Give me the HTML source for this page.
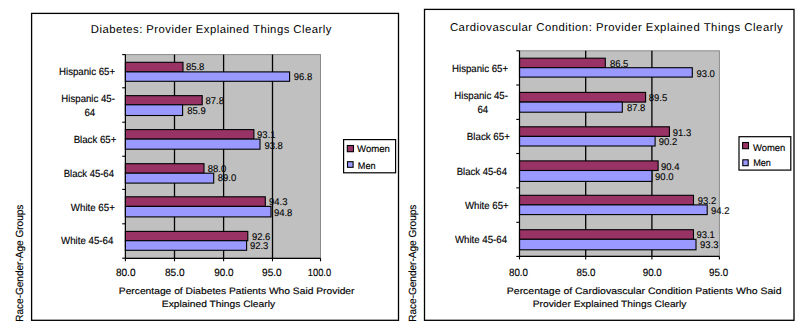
<!DOCTYPE html>
<html><head><meta charset="utf-8"><style>
html,body{margin:0;padding:0;background:#fff;width:804px;height:329px;overflow:hidden}
svg{display:block}
text{font-family:"Liberation Sans",sans-serif;fill:#000;text-rendering:geometricPrecision}
</style></head><body>
<svg width="804" height="329" viewBox="0 0 804 329">
<rect x="31.6" y="13.4" width="366.90" height="306.90" fill="#fff" stroke="#000" stroke-width="1.3"/>
<rect x="125.4" y="54.6" width="195.10" height="203.70" fill="#C0C0C0" stroke="#8a8a8a" stroke-width="1"/>
<rect x="424.5" y="9.4" width="369.50" height="310.90" fill="#fff" stroke="#000" stroke-width="1.3"/>
<rect x="519.5" y="50.8" width="199.90" height="205.60" fill="#C0C0C0" stroke="#8a8a8a" stroke-width="1"/>
<text x="185.90" y="69.60" font-size="9.8" textLength="18.48" lengthAdjust="spacingAndGlyphs" stroke="#000" stroke-width="0.1">85.8</text>
<text x="293.70" y="79.80" font-size="9.8" textLength="18.48" lengthAdjust="spacingAndGlyphs" stroke="#000" stroke-width="0.1">96.8</text>
<text x="205.50" y="104.10" font-size="9.8" textLength="18.48" lengthAdjust="spacingAndGlyphs" stroke="#000" stroke-width="0.1">87.8</text>
<text x="187.30" y="113.90" font-size="9.8" textLength="18.48" lengthAdjust="spacingAndGlyphs" stroke="#000" stroke-width="0.1">85.9</text>
<text x="257.10" y="138.20" font-size="9.8" textLength="18.48" lengthAdjust="spacingAndGlyphs" stroke="#000" stroke-width="0.1">93.1</text>
<text x="264.40" y="148.70" font-size="9.8" textLength="18.48" lengthAdjust="spacingAndGlyphs" stroke="#000" stroke-width="0.1">93.8</text>
<text x="207.80" y="171.90" font-size="9.8" textLength="18.48" lengthAdjust="spacingAndGlyphs" stroke="#000" stroke-width="0.1">88.0</text>
<text x="217.80" y="181.40" font-size="9.8" textLength="18.48" lengthAdjust="spacingAndGlyphs" stroke="#000" stroke-width="0.1">89.0</text>
<text x="269.00" y="204.60" font-size="9.8" textLength="18.48" lengthAdjust="spacingAndGlyphs" stroke="#000" stroke-width="0.1">94.3</text>
<text x="273.90" y="215.50" font-size="9.8" textLength="18.48" lengthAdjust="spacingAndGlyphs" stroke="#000" stroke-width="0.1">94.8</text>
<text x="251.90" y="239.60" font-size="9.8" textLength="18.48" lengthAdjust="spacingAndGlyphs" stroke="#000" stroke-width="0.1">92.6</text>
<text x="249.90" y="248.90" font-size="9.8" textLength="18.48" lengthAdjust="spacingAndGlyphs" stroke="#000" stroke-width="0.1">92.3</text>
<text x="609.90" y="67.00" font-size="9.8" textLength="18.48" lengthAdjust="spacingAndGlyphs" stroke="#000" stroke-width="0.1">86.5</text>
<text x="696.40" y="76.90" font-size="9.8" textLength="18.48" lengthAdjust="spacingAndGlyphs" stroke="#000" stroke-width="0.1">93.0</text>
<text x="648.80" y="100.80" font-size="9.8" textLength="18.48" lengthAdjust="spacingAndGlyphs" stroke="#000" stroke-width="0.1">89.5</text>
<text x="626.90" y="111.20" font-size="9.8" textLength="18.48" lengthAdjust="spacingAndGlyphs" stroke="#000" stroke-width="0.1">87.8</text>
<text x="672.80" y="135.50" font-size="9.8" textLength="18.48" lengthAdjust="spacingAndGlyphs" stroke="#000" stroke-width="0.1">91.3</text>
<text x="658.70" y="145.10" font-size="9.8" textLength="18.48" lengthAdjust="spacingAndGlyphs" stroke="#000" stroke-width="0.1">90.2</text>
<text x="661.00" y="169.60" font-size="9.8" textLength="18.48" lengthAdjust="spacingAndGlyphs" stroke="#000" stroke-width="0.1">90.4</text>
<text x="655.10" y="179.60" font-size="9.8" textLength="18.48" lengthAdjust="spacingAndGlyphs" stroke="#000" stroke-width="0.1">90.0</text>
<text x="697.80" y="204.40" font-size="9.8" textLength="18.48" lengthAdjust="spacingAndGlyphs" stroke="#000" stroke-width="0.1">93.2</text>
<text x="711.00" y="214.00" font-size="9.8" textLength="18.48" lengthAdjust="spacingAndGlyphs" stroke="#000" stroke-width="0.1">94.2</text>
<text x="696.40" y="238.40" font-size="9.8" textLength="18.48" lengthAdjust="spacingAndGlyphs" stroke="#000" stroke-width="0.1">93.1</text>
<text x="700.10" y="248.40" font-size="9.8" textLength="18.48" lengthAdjust="spacingAndGlyphs" stroke="#000" stroke-width="0.1">93.3</text>
<line x1="174.5" y1="54.6" x2="174.5" y2="258.3" stroke="#000" stroke-width="1.3"/>
<line x1="223.6" y1="54.6" x2="223.6" y2="258.3" stroke="#000" stroke-width="1.3"/>
<line x1="272.5" y1="54.6" x2="272.5" y2="258.3" stroke="#000" stroke-width="1.3"/>
<rect x="125.4" y="62.30" width="57.60" height="9.60" fill="#993366" stroke="#000" stroke-width="1.1"/>
<rect x="125.4" y="71.90" width="164.20" height="9.40" fill="#9999FF" stroke="#000" stroke-width="1.1"/>
<rect x="125.4" y="95.65" width="76.80" height="9.15" fill="#993366" stroke="#000" stroke-width="1.1"/>
<rect x="125.4" y="104.80" width="57.20" height="10.70" fill="#9999FF" stroke="#000" stroke-width="1.1"/>
<rect x="125.4" y="129.60" width="128.50" height="9.50" fill="#993366" stroke="#000" stroke-width="1.1"/>
<rect x="125.4" y="139.10" width="134.60" height="10.10" fill="#9999FF" stroke="#000" stroke-width="1.1"/>
<rect x="125.4" y="163.70" width="78.60" height="9.50" fill="#993366" stroke="#000" stroke-width="1.1"/>
<rect x="125.4" y="173.20" width="88.30" height="9.90" fill="#9999FF" stroke="#000" stroke-width="1.1"/>
<rect x="125.4" y="196.80" width="139.90" height="9.60" fill="#993366" stroke="#000" stroke-width="1.1"/>
<rect x="125.4" y="206.40" width="145.60" height="10.50" fill="#9999FF" stroke="#000" stroke-width="1.1"/>
<rect x="125.4" y="231.40" width="122.40" height="9.30" fill="#993366" stroke="#000" stroke-width="1.1"/>
<rect x="125.4" y="240.70" width="121.20" height="9.60" fill="#9999FF" stroke="#000" stroke-width="1.1"/>
<line x1="125.4" y1="54.6" x2="125.4" y2="258.3" stroke="#000" stroke-width="1.2"/>
<line x1="125.4" y1="258.3" x2="320.5" y2="258.3" stroke="#000" stroke-width="1.2"/>
<line x1="122.2" y1="54.6" x2="125.4" y2="54.6" stroke="#000" stroke-width="1.1"/>
<line x1="122.2" y1="87.8" x2="125.4" y2="87.8" stroke="#000" stroke-width="1.1"/>
<line x1="122.2" y1="122.2" x2="125.4" y2="122.2" stroke="#000" stroke-width="1.1"/>
<line x1="122.2" y1="156.25" x2="125.4" y2="156.25" stroke="#000" stroke-width="1.1"/>
<line x1="122.2" y1="189.4" x2="125.4" y2="189.4" stroke="#000" stroke-width="1.1"/>
<line x1="122.2" y1="223.8" x2="125.4" y2="223.8" stroke="#000" stroke-width="1.1"/>
<line x1="122.2" y1="258.2" x2="125.4" y2="258.2" stroke="#000" stroke-width="1.1"/>
<line x1="125.4" y1="258.3" x2="125.4" y2="261.3" stroke="#000" stroke-width="1.1"/>
<line x1="174.5" y1="258.3" x2="174.5" y2="261.3" stroke="#000" stroke-width="1.1"/>
<line x1="223.6" y1="258.3" x2="223.6" y2="261.3" stroke="#000" stroke-width="1.1"/>
<line x1="272.5" y1="258.3" x2="272.5" y2="261.3" stroke="#000" stroke-width="1.1"/>
<line x1="320.5" y1="258.3" x2="320.5" y2="261.3" stroke="#000" stroke-width="1.1"/>
<line x1="585.7" y1="50.8" x2="585.7" y2="256.4" stroke="#000" stroke-width="1.3"/>
<line x1="651.9" y1="50.8" x2="651.9" y2="256.4" stroke="#000" stroke-width="1.3"/>
<rect x="519.5" y="58.20" width="85.80" height="9.50" fill="#993366" stroke="#000" stroke-width="1.1"/>
<rect x="519.5" y="67.70" width="172.80" height="9.40" fill="#9999FF" stroke="#000" stroke-width="1.1"/>
<rect x="519.5" y="92.40" width="126.10" height="9.70" fill="#993366" stroke="#000" stroke-width="1.1"/>
<rect x="519.5" y="102.10" width="102.80" height="10.10" fill="#9999FF" stroke="#000" stroke-width="1.1"/>
<rect x="519.5" y="126.80" width="149.90" height="9.60" fill="#993366" stroke="#000" stroke-width="1.1"/>
<rect x="519.5" y="136.40" width="135.60" height="9.60" fill="#9999FF" stroke="#000" stroke-width="1.1"/>
<rect x="519.5" y="160.90" width="138.60" height="9.60" fill="#993366" stroke="#000" stroke-width="1.1"/>
<rect x="519.5" y="170.50" width="132.40" height="10.90" fill="#9999FF" stroke="#000" stroke-width="1.1"/>
<rect x="519.5" y="195.30" width="174.00" height="9.60" fill="#993366" stroke="#000" stroke-width="1.1"/>
<rect x="519.5" y="204.90" width="187.70" height="9.70" fill="#9999FF" stroke="#000" stroke-width="1.1"/>
<rect x="519.5" y="229.70" width="174.00" height="9.60" fill="#993366" stroke="#000" stroke-width="1.1"/>
<rect x="519.5" y="239.30" width="176.50" height="10.50" fill="#9999FF" stroke="#000" stroke-width="1.1"/>
<line x1="519.5" y1="50.8" x2="519.5" y2="256.4" stroke="#000" stroke-width="1.2"/>
<line x1="519.5" y1="256.4" x2="719.4" y2="256.4" stroke="#000" stroke-width="1.2"/>
<line x1="516.3" y1="50.8" x2="519.5" y2="50.8" stroke="#000" stroke-width="1.1"/>
<line x1="516.3" y1="85.0" x2="519.5" y2="85.0" stroke="#000" stroke-width="1.1"/>
<line x1="516.3" y1="119.4" x2="519.5" y2="119.4" stroke="#000" stroke-width="1.1"/>
<line x1="516.3" y1="153.5" x2="519.5" y2="153.5" stroke="#000" stroke-width="1.1"/>
<line x1="516.3" y1="187.85" x2="519.5" y2="187.85" stroke="#000" stroke-width="1.1"/>
<line x1="516.3" y1="222.3" x2="519.5" y2="222.3" stroke="#000" stroke-width="1.1"/>
<line x1="516.3" y1="256.4" x2="519.5" y2="256.4" stroke="#000" stroke-width="1.1"/>
<line x1="519.5" y1="256.4" x2="519.5" y2="259.4" stroke="#000" stroke-width="1.1"/>
<line x1="585.7" y1="256.4" x2="585.7" y2="259.4" stroke="#000" stroke-width="1.1"/>
<line x1="651.9" y1="256.4" x2="651.9" y2="259.4" stroke="#000" stroke-width="1.1"/>
<line x1="719.4" y1="256.4" x2="719.4" y2="259.4" stroke="#000" stroke-width="1.1"/>
<text x="90.80" y="33.40" font-size="11.3" textLength="240.53" lengthAdjust="spacing">Diabetes: Provider Explained Things Clearly</text>
<text x="449.90" y="30.60" font-size="11.3" textLength="332.75" lengthAdjust="spacing">Cardiovascular Condition: Provider Explained Things Clearly</text>
<text x="59.06" y="75.00" font-size="10.3" textLength="55.97" lengthAdjust="spacingAndGlyphs" stroke="#000" stroke-width="0.15">Hispanic 65+</text>
<text x="61.36" y="101.90" font-size="10.3" textLength="53.56" lengthAdjust="spacingAndGlyphs" stroke="#000" stroke-width="0.15">Hispanic 45-</text>
<text x="84.40" y="115.50" font-size="10.3" textLength="10.74" lengthAdjust="spacingAndGlyphs" stroke="#000" stroke-width="0.15">64</text>
<text x="73.66" y="142.50" font-size="10.3" textLength="42.62" lengthAdjust="spacingAndGlyphs" stroke="#000" stroke-width="0.15">Black 65+</text>
<text x="63.78" y="176.50" font-size="10.3" textLength="50.18" lengthAdjust="spacingAndGlyphs" stroke="#000" stroke-width="0.15">Black 45-64</text>
<text x="70.80" y="210.90" font-size="10.3" textLength="44.08" lengthAdjust="spacingAndGlyphs" stroke="#000" stroke-width="0.15">White 65+</text>
<text x="61.10" y="243.90" font-size="10.3" textLength="52.20" lengthAdjust="spacingAndGlyphs" stroke="#000" stroke-width="0.15">White 45-64</text>
<text x="452.06" y="72.40" font-size="10.3" textLength="55.97" lengthAdjust="spacingAndGlyphs" stroke="#000" stroke-width="0.15">Hispanic 65+</text>
<text x="454.36" y="98.90" font-size="10.3" textLength="53.56" lengthAdjust="spacingAndGlyphs" stroke="#000" stroke-width="0.15">Hispanic 45-</text>
<text x="477.40" y="112.50" font-size="10.3" textLength="10.74" lengthAdjust="spacingAndGlyphs" stroke="#000" stroke-width="0.15">64</text>
<text x="466.85" y="140.30" font-size="10.3" textLength="43.03" lengthAdjust="spacingAndGlyphs" stroke="#000" stroke-width="0.15">Black 65+</text>
<text x="456.78" y="174.90" font-size="10.3" textLength="50.18" lengthAdjust="spacingAndGlyphs" stroke="#000" stroke-width="0.15">Black 45-64</text>
<text x="465.00" y="209.30" font-size="10.3" textLength="43.68" lengthAdjust="spacingAndGlyphs" stroke="#000" stroke-width="0.15">White 65+</text>
<text x="454.90" y="243.30" font-size="10.3" textLength="52.20" lengthAdjust="spacingAndGlyphs" stroke="#000" stroke-width="0.15">White 45-64</text>
<text x="115.90" y="275.90" font-size="10.5" textLength="19.62" lengthAdjust="spacingAndGlyphs" stroke="#000" stroke-width="0.15">80.0</text>
<text x="165.00" y="275.90" font-size="10.5" textLength="19.62" lengthAdjust="spacingAndGlyphs" stroke="#000" stroke-width="0.15">85.0</text>
<text x="214.20" y="275.90" font-size="10.5" textLength="19.31" lengthAdjust="spacingAndGlyphs" stroke="#000" stroke-width="0.15">90.0</text>
<text x="262.10" y="275.90" font-size="10.5" textLength="19.62" lengthAdjust="spacingAndGlyphs" stroke="#000" stroke-width="0.15">95.0</text>
<text x="307.81" y="275.90" font-size="10.5" textLength="23.34" lengthAdjust="spacingAndGlyphs" stroke="#000" stroke-width="0.15">100.0</text>
<text x="509.00" y="275.70" font-size="10.5" textLength="19.01" lengthAdjust="spacingAndGlyphs" stroke="#000" stroke-width="0.15">80.0</text>
<text x="576.50" y="275.70" font-size="10.5" textLength="19.01" lengthAdjust="spacingAndGlyphs" stroke="#000" stroke-width="0.15">85.0</text>
<text x="642.70" y="275.70" font-size="10.5" textLength="19.11" lengthAdjust="spacingAndGlyphs" stroke="#000" stroke-width="0.15">90.0</text>
<text x="709.00" y="275.70" font-size="10.5" textLength="19.11" lengthAdjust="spacingAndGlyphs" stroke="#000" stroke-width="0.15">95.0</text>
<text x="118.80" y="293.90" font-size="9.2" textLength="235.71" lengthAdjust="spacingAndGlyphs" stroke="#000" stroke-width="0.15">Percentage of Diabetes Patients Who Said Provider</text>
<text x="161.80" y="307.40" font-size="9.2" textLength="113.31" lengthAdjust="spacingAndGlyphs" stroke="#000" stroke-width="0.15">Explained Things Clearly</text>
<text x="506.80" y="293.70" font-size="9.2" textLength="274.72" lengthAdjust="spacingAndGlyphs" stroke="#000" stroke-width="0.15">Percentage of Cardiovascular Condition Patients Who Said</text>
<text x="532.80" y="307.40" font-size="9.2" textLength="153.55" lengthAdjust="spacingAndGlyphs" stroke="#000" stroke-width="0.15">Provider Explained Things Clearly</text>
<rect x="343.6" y="139.6" width="52.00" height="33.20" fill="#fff" stroke="#000" stroke-width="1.2"/>
<rect x="347.30" y="145.50" width="6.20" height="6.20" fill="#993366" stroke="#000" stroke-width="1.1"/>
<rect x="347.50" y="161.70" width="5.60" height="5.60" fill="#9999FF" stroke="#000" stroke-width="1.1"/>
<rect x="739.0" y="136.7" width="51.80" height="33.40" fill="#fff" stroke="#000" stroke-width="1.2"/>
<rect x="742.60" y="142.50" width="5.90" height="6.20" fill="#993366" stroke="#000" stroke-width="1.1"/>
<rect x="742.80" y="159.80" width="5.40" height="5.90" fill="#9999FF" stroke="#000" stroke-width="1.1"/>
<text x="357.00" y="151.90" font-size="9.6" textLength="32.89" lengthAdjust="spacingAndGlyphs" stroke="#000" stroke-width="0.15">Women</text>
<text x="357.85" y="169.20" font-size="9.6" textLength="17.79" lengthAdjust="spacingAndGlyphs" stroke="#000" stroke-width="0.15">Men</text>
<text x="753.00" y="150.70" font-size="9.6" textLength="32.19" lengthAdjust="spacingAndGlyphs" stroke="#000" stroke-width="0.15">Women</text>
<text x="753.15" y="166.40" font-size="9.6" textLength="17.79" lengthAdjust="spacingAndGlyphs" stroke="#000" stroke-width="0.15">Men</text>
<text x="0" y="0" font-size="10.4" textLength="117.2" lengthAdjust="spacingAndGlyphs" stroke="#000" stroke-width="0.15" transform="translate(22.6,321.8) rotate(-90)">Race-Gender-Age Groups</text>
<text x="0" y="0" font-size="10.4" textLength="117.2" lengthAdjust="spacingAndGlyphs" stroke="#000" stroke-width="0.15" transform="translate(415.9,321.8) rotate(-90)">Race-Gender-Age Groups</text>
</svg>
</body></html>
